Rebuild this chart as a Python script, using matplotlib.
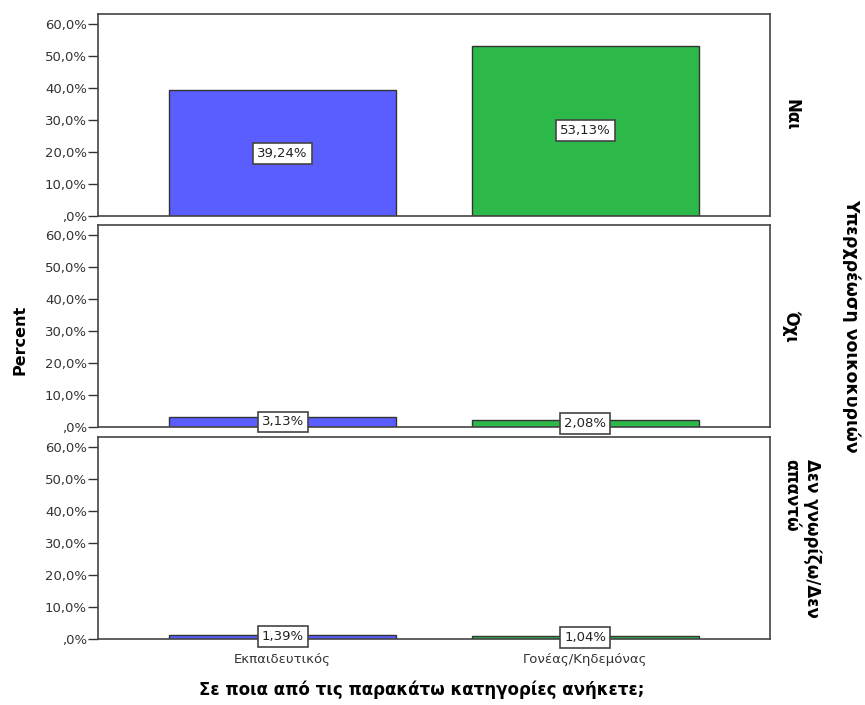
import matplotlib
matplotlib.use('Agg')
import matplotlib.pyplot as plt
import numpy as np

# data
categories = ['Εκπαιδευτικός', 'Γονέας/Κηδεμόνας']
rows = ['Ναι', 'Όχι', 'Δεν γνωρίζω/Δεν\nαπαντώ']
values = [
    [39.24, 53.13],
    [3.13, 2.08],
    [1.39, 1.04],
]
yticks = [0, 10, 20, 30, 40, 50, 60]
ytick_labels = [',0%', '10,0%', '20,0%', '30,0%', '40,0%', '50,0%', '60,0%']
colors = ['#5a5eff', '#2db84a']

fig = plt.figure(figsize=(8.65, 7.05), dpi=100)
left, right = 98 / 865, 770 / 865
tops = [14, 225, 437]
h = 202
x = np.arange(len(categories))

for i, row in enumerate(rows):
    ax = fig.add_axes([left, 1 - (tops[i] + h) / 705, right - left, h / 705])
    ax.bar(x, values[i], width=0.75, color=colors, edgecolor='#333333', linewidth=1)
    for xi, v in zip(x, values[i]):
        lab = '{:.2f}%'.format(v).replace('.', ',')
        ax.text(xi, v / 2, lab, ha='center', va='center', fontsize=9.5, color='#222222',
                bbox=dict(boxstyle='square,pad=0.3', fc='white', ec='#444444', lw=1.2))
    ax.set_xlim(-0.61, 1.61)
    ax.set_ylim(0, 63)
    ax.set_yticks(yticks)
    ax.set_yticklabels(ytick_labels, fontsize=9.5, color='#333333')
    ax.tick_params(axis='y', length=7, width=1, color='#333333', pad=1)
    for s in ax.spines.values():
        s.set_color('#444444')
        s.set_linewidth(1.2)
    if i < 2:
        ax.set_xticks([])
    else:
        ax.set_xticks(x)
        ax.set_xticklabels(categories, fontsize=9.5, color='#333333')
        ax.tick_params(axis='x', length=0, pad=10)
    fig.text(782 / 865, 1 - (tops[i] + h / 2) / 705, row, rotation=-90,
             ha='left', va='center', fontsize=12, fontweight='bold')

fig.text(20 / 865, 1 - 340 / 705, 'Percent', rotation=90, ha='center', va='center',
         fontsize=11.5, fontweight='bold')
fig.text(851 / 865, 1 - 326 / 705, 'Υπερχρέωση νοικοκυριών', rotation=-90,
         ha='center', va='center', fontsize=12.5, fontweight='bold')
fig.text(422 / 865, 1 - 690 / 705, 'Σε ποια από τις παρακάτω κατηγορίες ανήκετε;',
         ha='center', va='center', fontsize=12, fontweight='bold')

fig.savefig('out.png', dpi=100)
